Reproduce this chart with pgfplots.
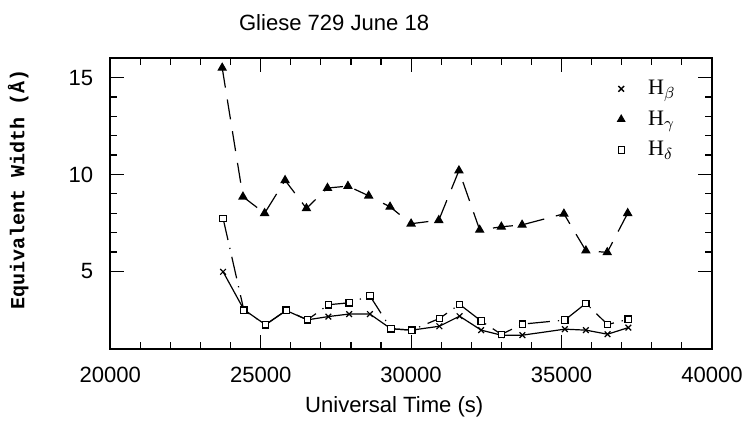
\documentclass[border=0pt]{standalone}
\usepackage{fontspec}
\setmainfont{Liberation Sans}
\newfontfamily\serifH{Liberation Serif}
\newfontfamily\monoB{Liberation Mono}
\usepackage{pgfplots}
\pgfplotsset{compat=1.18}

% equivalent widths
\pgfplotstableread{
t      hb
23750  4.98
24440  3.03
25160  2.25
25850  2.98
26550  2.50
27250  2.67
27940  2.80
28630  2.80
29330  2.04
30020  1.97
30940  2.17
31610  2.69
32330  1.97
33000  1.71
33700  1.71
35110  2.02
35810  1.97
36530  1.76
37220  2.10
}\hbeta
\pgfplotstableread{
t      hg
23720  15.50
24410  8.85
25130  8.00
25810  9.70
26520  8.25
27220  9.30
27900  9.40
28590  8.90
29300  8.33
30000  7.46
30920  7.64
31590  10.20
32280  7.14
33000  7.30
33690  7.40
35080  7.97
35810  6.07
36520  5.98
37200  8.00
}\hgamma
\pgfplotstableread{
t      hd
23750  7.73
24440  3.00
25160  2.25
25850  3.00
26550  2.50
27250  3.28
27940  3.38
28630  3.74
29330  2.04
30020  1.97
30940  2.57
31610  3.30
32330  2.44
33000  1.75
33700  2.28
35110  2.49
35810  3.35
36530  2.26
37220  2.53
}\hdelta

\begin{document}
\begin{tikzpicture}
\begin{axis}[
    name=ax,
    scale only axis,
    width=300pt, height=145pt,
    xmin=20000, xmax=40000,
    ymin=1, ymax=16,
    xtick={20000,25000,...,40000},
    ytick={5,10,15},
    scaled ticks=false,
    minor x tick num=4,
    minor y tick num=4,
    tick align=inside,
    major tick length=7pt,
    minor tick length=3.5pt,
    axis line style={line width=0.8pt},
    every tick/.style={black, line width=0.6pt},
    /pgf/number format/1000 sep={},
    /pgf/number format/assume math mode=true,
    tick label style={font=\fontsize{11}{13}\selectfont},
    xticklabel style={yshift=-5.5pt},
    yticklabel style={xshift=-5pt},
    title={Gliese 729 June 18},
    title style={at={(axis description cs:0.372,1.052)}, anchor=south, inner sep=0pt,
        font=\fontsize{11}{13}\selectfont},
    xlabel={Universal Time (s)},
    xlabel style={at={(axis description cs:0.472,-0.162)}, anchor=north, inner sep=0pt,
        font=\fontsize{11}{13}\selectfont},
    ylabel={\monoB\bfseries Equivalent Width (Å)},
    ylabel style={at={(axis description cs:-0.153,0.548)}, anchor=center, inner sep=0pt,
        font=\fontsize{10}{12}\selectfont},
    legend style={draw=none, fill=none, at={(axis description cs:0.955,0.95)}, anchor=north east,
        font=\serifH\fontsize{11}{13}\selectfont, row sep=3.5pt,
        nodes={inner sep=1.5pt},
        /tikz/every odd column/.append style={column sep=10pt}},
    legend cell align=left,
]
\addlegendimage{only marks, mark=x, mark size=2pt, line width=0.7pt, black}
\addlegendentry{H$_\beta$}
\addlegendimage{only marks, mark=triangle*, mark size=2.2pt, black}
\addlegendentry{H$_\gamma$}
\addlegendimage{only marks, mark=square*, mark size=1.6pt, black, mark options={fill=white}}
\addlegendentry{H$_\delta$}

\addplot[forget plot, black, line width=0.6pt, mark=x, mark size=2pt] table[x=t, y=hb] {\hbeta};
\addplot[forget plot, black, line width=0.6pt, dash pattern=on 10pt off 6pt,
    mark=triangle*, mark size=2.2pt, mark options={solid}] table[x=t, y=hg] {\hgamma};
\addplot[forget plot, black, line width=0.6pt, dash pattern=on 11pt off 4pt on 0.6pt off 4pt,
    mark=square*, mark size=1.6pt, mark options={solid, fill=white}] table[x=t, y=hd] {\hdelta};
\end{axis}
\pgfresetboundingbox
\path ([shift={(-55pt,-37.5pt)}]ax.south west) rectangle ([shift={(16.5pt,29pt)}]ax.north east);
\end{tikzpicture}
\end{document}
